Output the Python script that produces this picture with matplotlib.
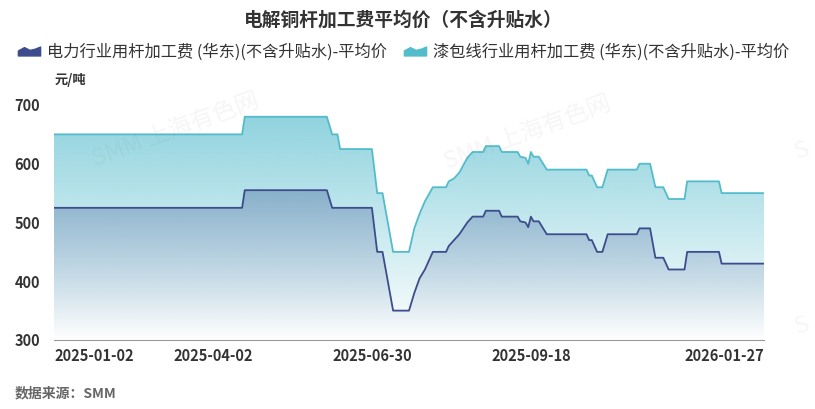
import numpy as np
import matplotlib
matplotlib.use('Agg')
import matplotlib.pyplot as plt
from matplotlib.path import Path
from matplotlib.patches import PathPatch
from matplotlib.lines import Line2D
from matplotlib.colors import to_rgb

plt.rcParams['font.family'] = ['Noto Sans CJK SC', 'DejaVu Sans']

# 交易日序号 (折线拐点)
day_idx = [0, 71, 72, 103, 105, 107, 108, 120, 122, 124, 128, 134, 136, 138, 140,
           143, 148, 149, 151, 152, 153, 156, 158, 162, 163, 168, 169, 175, 176, 178,
           179, 180, 181, 183, 186, 201, 202, 203, 205, 207, 209, 220, 221, 225, 227,
           230, 232, 238, 239, 251, 252, 268]
# 漆包线行业用杆
enamel = [650, 650, 680, 680, 650, 650, 625, 625, 550, 550, 450, 450, 490, 515, 536,
          560, 560, 570, 575, 580, 585, 610, 620, 620, 630, 630, 620, 620, 612, 610,
          600, 620, 612, 612, 590, 590, 580, 580, 560, 560, 590, 590, 600, 600, 560,
          560, 540, 540, 570, 570, 550, 550]
# 电力行业用杆
power = [525, 525, 555, 555, 525, 525, 525, 525, 450, 450, 350, 350, 380, 405, 420,
         450, 450, 460, 470, 475, 480, 500, 510, 510, 520, 520, 510, 510, 502, 500,
         492, 510, 502, 502, 480, 480, 470, 470, 450, 450, 480, 480, 490, 490, 440,
         440, 420, 420, 450, 450, 430, 430]

tick_idx = [0, 60, 120, 180, 268]
tick_lab = ['2025-01-02', '2025-04-02', '2025-06-30', '2025-09-18', '2026-01-27']

name_power = '电力行业用杆加工费 (华东)(不含升贴水)-平均价'
name_enamel = '漆包线行业用杆加工费 (华东)(不含升贴水)-平均价'
c_power = '#3d4c8c'
c_enamel = '#52bccb'

W, H = 815, 409
fig = plt.figure(figsize=(W / 100, H / 100), dpi=100)
ax = fig.add_axes([54 / W, 1 - 340 / H, 710 / W, 235 / H])


def grad_fill(x, y, color, a_top, z):
    # 渐变面积
    poly = ax.fill_between(x, y, 300, facecolor='none', edgecolor='none')
    patch = PathPatch(poly.get_paths()[0], transform=ax.transData,
                      facecolor='none', edgecolor='none')
    ax.add_patch(patch)
    g = np.zeros((256, 1, 4))
    g[:, :, :3] = to_rgb(color)
    g[:, 0, 3] = np.linspace(a_top, 0.0, 256)
    im = ax.imshow(g, aspect='auto', origin='upper', zorder=z,
                   extent=[x[0], x[-1], 300, max(y)])
    im.set_clip_path(patch)


grad_fill(day_idx, enamel, '#3fb3c6', 0.58, 1)
grad_fill(day_idx, power, '#3d5a96', 0.36, 2)
ax.plot(day_idx, enamel, color=c_enamel, lw=1.3, zorder=3)
ax.plot(day_idx, power, color=c_power, lw=1.3, zorder=4)

ax.set_xlim(0, 268)
ax.set_ylim(300, 700)
ax.set_yticks([300, 400, 500, 600, 700])
ax.set_xticks(tick_idx)
ax.set_xticklabels(tick_lab)
labs = ax.get_xticklabels()
labs[0].set_ha('left')
labs[-1].set_ha('right')
ax.tick_params(length=0, labelsize=10.5, labelcolor='#333333')
ax.tick_params(axis='x', pad=6)
ax.tick_params(axis='y', pad=10)
for t in ax.get_xticklabels() + ax.get_yticklabels():
    t.set_fontweight('bold')
for s in ['top', 'right', 'left']:
    ax.spines[s].set_visible(False)
ax.spines['bottom'].set_color('#999999')
ax.spines['bottom'].set_zorder(5)
ax.set_facecolor('none')

# 水印
for (px, py) in [(176, 130), (528, 133)]:
    fig.text(px / W, 1 - py / H, 'SMM 上海有色网', fontsize=17, color='#888888',
             alpha=0.08, rotation=20, ha='center', va='center')
for py in [150, 325]:
    fig.text(792 / W, 1 - py / H, 'S', fontsize=17, color='#888888',
             alpha=0.08, rotation=20, ha='left', va='center')

fig.text(0.495, 1 - 20 / H, '电解铜杆加工费平均价（不含升贴水）', ha='center', va='center',
         fontsize=13.5, fontweight='bold', color='#333333')
fig.text(55 / W, 1 - 80 / H, '元/吨', ha='left', va='center', fontsize=9.5,
         fontweight='bold', color='#333333')
fig.text(15 / W, 1 - 393 / H, '数据来源：SMM', ha='left', va='center', fontsize=10,
         style='italic', fontweight='bold', color='#666666')

icon = Path([(-1, -0.4), (-1, 0.05), (-0.45, 0.35), (0.05, 0.1), (0.5, 0.2), (1, 0.4),
             (1, -0.4), (-1, -0.4)],
            [Path.MOVETO] + [Path.LINETO] * 6 + [Path.CLOSEPOLY])
handles = [Line2D([], [], marker=icon, markersize=16, linestyle='none', color=c_power),
           Line2D([], [], marker=icon, markersize=16, linestyle='none', color=c_enamel)]
fig.legend(handles, [name_power, name_enamel], loc='center', ncol=2,
           bbox_to_anchor=(403.5 / W, 1 - 52 / H), frameon=False, fontsize=11.7,
           labelcolor='#333333', handlelength=1.4, handletextpad=0.4,
           columnspacing=1.0, borderaxespad=0)

fig.savefig('out.png', dpi=100)
